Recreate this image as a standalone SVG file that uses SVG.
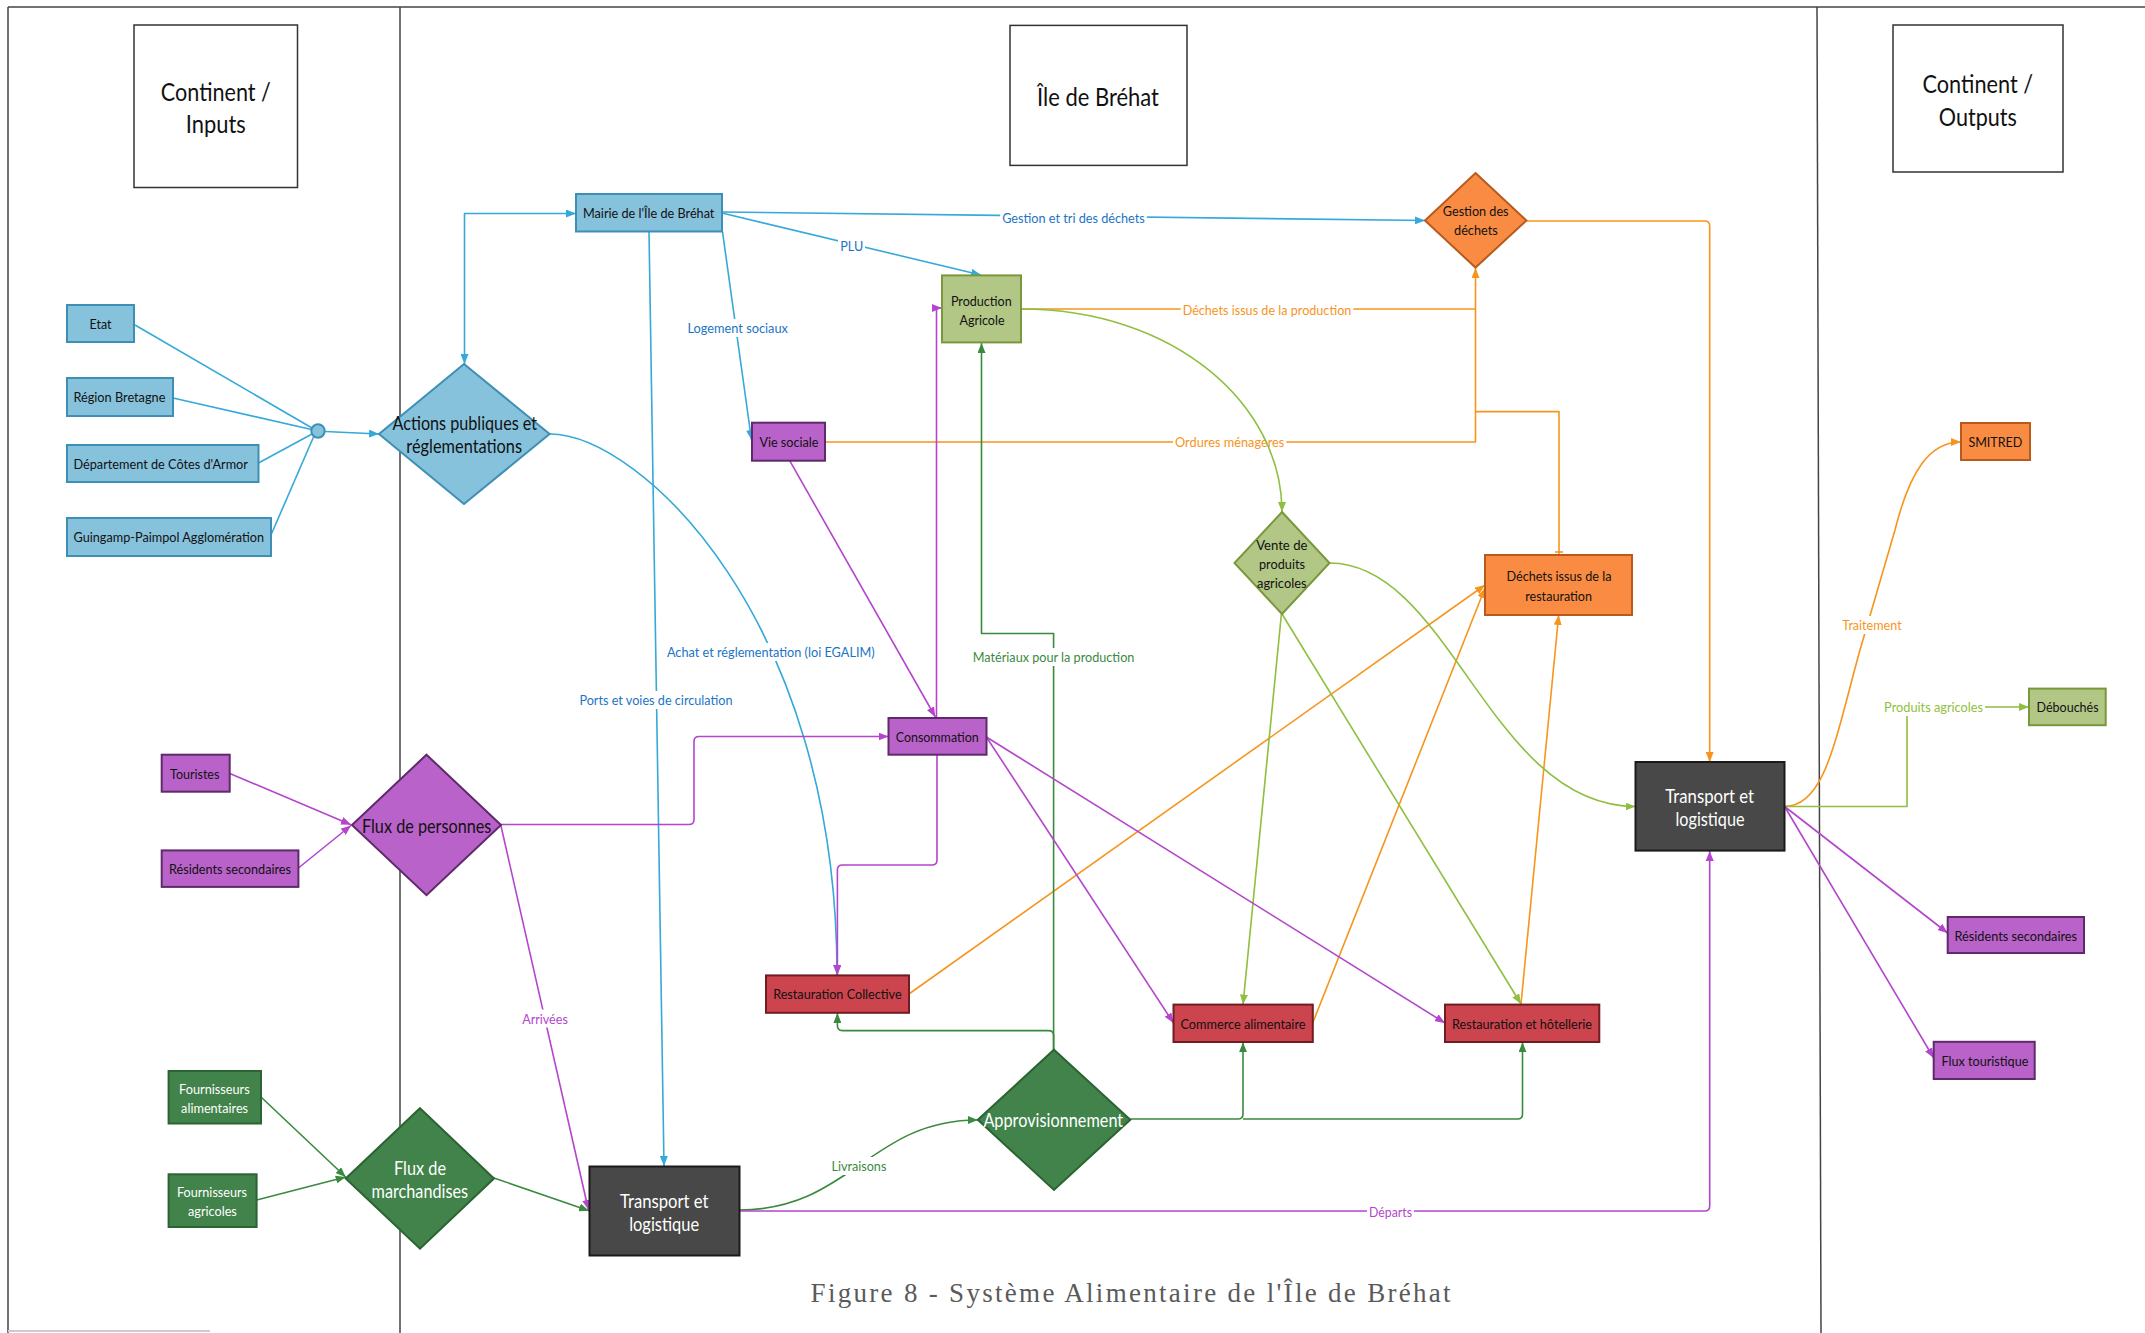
<svg xmlns="http://www.w3.org/2000/svg" width="2145" height="1333" viewBox="0 0 2145 1333">
<style>
text{font-family:Lato,"Open Sans","DejaVu Sans",sans-serif;text-anchor:middle;}
.t{font-size:14px;fill:#111;}
.tw{font-size:14px;fill:#fff;}
.big{font-size:19px;fill:#111;}
.bigw{font-size:19px;fill:#fff;}
.hdr{font-size:25px;fill:#111;}
.lbl{font-size:14px;}
.frame{stroke:#444;stroke-width:1.5;fill:none;}
.box{fill:#fff;stroke:#333;stroke-width:1.5;}
.blue{fill:#86c2dc;stroke:#3d8fb5;stroke-width:2;}
.purple{fill:#b962c9;stroke:#5e2a6a;stroke-width:2;}
.lgreen{fill:#b2c686;stroke:#79983b;stroke-width:2;}
.dgreen{fill:#41834a;stroke:#2a6432;stroke-width:2;}
.red{fill:#cc444d;stroke:#6e1d22;stroke-width:2;}
.orange{fill:#f98c42;stroke:#b85a1c;stroke-width:2;}
.dark{fill:#484848;stroke:#1a1a1a;stroke-width:2;}
.c{fill:none;stroke-width:1.6;stroke-linejoin:round;}
.cb{stroke:#35a9d9;}
.cl{stroke:#8fbf40;}
.cg{stroke:#3a8a3e;}
.cp{stroke:#b445cc;}
.co{stroke:#f7941d;}
.bg{fill:#fff;}
.lb{fill:#1b74c5;}
.lo{fill:#f7941d;}
.lg{fill:#3a8a3e;}
.ll{fill:#8fbf40;}
.lp{fill:#b445cc;}
</style>
<defs>
<marker id="ab" viewBox="0 0 10 8" refX="10" refY="4" markerWidth="10" markerHeight="8" markerUnits="userSpaceOnUse" orient="auto-start-reverse"><path d="M0,0 L10,4 L0,8 z" fill="#35a9d9"/></marker>
<marker id="al" viewBox="0 0 10 8" refX="10" refY="4" markerWidth="10" markerHeight="8" markerUnits="userSpaceOnUse" orient="auto-start-reverse"><path d="M0,0 L10,4 L0,8 z" fill="#8fbf40"/></marker>
<marker id="ag" viewBox="0 0 10 8" refX="10" refY="4" markerWidth="10" markerHeight="8" markerUnits="userSpaceOnUse" orient="auto-start-reverse"><path d="M0,0 L10,4 L0,8 z" fill="#3a8a3e"/></marker>
<marker id="ap" viewBox="0 0 10 8" refX="10" refY="4" markerWidth="10" markerHeight="8" markerUnits="userSpaceOnUse" orient="auto-start-reverse"><path d="M0,0 L10,4 L0,8 z" fill="#b445cc"/></marker>
<marker id="ao" viewBox="0 0 10 8" refX="10" refY="4" markerWidth="10" markerHeight="8" markerUnits="userSpaceOnUse" orient="auto-start-reverse"><path d="M0,0 L10,4 L0,8 z" fill="#f7941d"/></marker>
</defs>
<rect x="0" y="0" width="2145" height="1333" fill="#fff"/>
<g id="frame">
<line class="frame" x1="8" y1="7" x2="2145" y2="7"/>
<line class="frame" x1="8" y1="7" x2="8" y2="1333"/>
<line class="frame" x1="400" y1="7" x2="400" y2="1333"/>
<line class="frame" x1="1817" y1="7" x2="1821" y2="1333"/>
<line x1="8" y1="1331" x2="210" y2="1331" stroke="#ccc" stroke-width="2"/>
</g>
<g id="connectors">
<!-- orange -->
<path class="c co" d="M1021,309 L1475.5,309 L1475.5,268" marker-end="url(#ao)"/>
<path class="c co" d="M825,442 L1475.5,442 L1475.5,309"/>
<path class="c co" d="M1559,555 L1559,411.6 L1475.5,411.6"/>
<line class="c co" x1="1555" y1="552" x2="1563" y2="552"/>
<path class="c co" d="M1526.4,221 L1704.7,221 Q1709.7,221 1709.7,226 L1709.7,762" marker-end="url(#ao)"/>
<path class="c co" d="M908.9,994 L1485,585" marker-end="url(#ao)"/>
<path class="c co" d="M1312.7,1023 L1485,588" marker-end="url(#ao)"/>
<path class="c co" d="M1521,1004 L1558.7,615" marker-end="url(#ao)"/>
<path class="c co" d="M1784.6,806.5 C1825,806.5 1835,740 1860,650 L1895,530 C1910,470 1930,442 1961,442" marker-end="url(#ao)"/>
<rect class="bg" x="1180.6" y="301" width="172.7" height="18"/>
<text class="lbl lo" x="1267" y="315" textLength="168.7" lengthAdjust="spacingAndGlyphs">Déchets issus de la production</text>
<rect class="bg" x="1173" y="433" width="113.4" height="18"/>
<text class="lbl lo" x="1229.7" y="447" textLength="109.4" lengthAdjust="spacingAndGlyphs">Ordures ménagères</text>
<rect class="bg" x="1840.3" y="616" width="63.3" height="18"/>
<text class="lbl lo" x="1872" y="630" textLength="59.3" lengthAdjust="spacingAndGlyphs">Traitement</text>
<!-- blue -->
<line class="c cb" x1="135" y1="325" x2="312" y2="428"/>
<line class="c cb" x1="173" y1="398" x2="311.5" y2="429.5"/>
<line class="c cb" x1="258.5" y1="463" x2="312" y2="434"/>
<line class="c cb" x1="271" y1="535" x2="313.5" y2="437"/>
<path class="c cb" d="M325,431.5 L379,434" marker-end="url(#ab)"/>
<path class="c cb" d="M576,213.5 L464.5,213.5 L464.5,364" marker-start="url(#ab)" marker-end="url(#ab)"/>
<path class="c cb" d="M722,212 L1425,220.5" marker-end="url(#ab)"/>
<path class="c cb" d="M722,213 L981,275" marker-end="url(#ab)"/>
<path class="c cb" d="M722.5,231.7 L751.5,440" marker-end="url(#ab)"/>
<path class="c cb" d="M649,231.7 L664,1166" marker-end="url(#ab)"/>
<path class="c cb" d="M549.6,434 C640,434 837,620 837,975" marker-end="url(#ab)"/>
<rect class="bg" x="1000.2" y="209" width="146.6" height="18"/>
<text class="lbl lb" x="1073.5" y="223" textLength="142.6" lengthAdjust="spacingAndGlyphs">Gestion et tri des déchets</text>
<rect class="bg" x="838" y="237" width="27" height="18"/>
<text class="lbl lb" x="851.7" y="251" textLength="23" lengthAdjust="spacingAndGlyphs">PLU</text>
<rect class="bg" x="685.5" y="319" width="104.5" height="18"/>
<text class="lbl lb" x="737.7" y="333" textLength="100.5" lengthAdjust="spacingAndGlyphs">Logement sociaux</text>
<rect class="bg" x="577.4" y="691" width="157.2" height="18"/>
<text class="lbl lb" x="656" y="705" textLength="153.2" lengthAdjust="spacingAndGlyphs">Ports et voies de circulation</text>
<rect class="bg" x="665" y="643" width="211.7" height="18"/>
<text class="lbl lb" x="770.8" y="657.4" textLength="207.7" lengthAdjust="spacingAndGlyphs">Achat et réglementation (loi EGALIM)</text>
<!-- dark green -->
<path class="c cg" d="M261,1097 L345.7,1177" marker-end="url(#ag)"/>
<path class="c cg" d="M256.7,1200 L345.7,1177" marker-end="url(#ag)"/>
<path class="c cg" d="M494,1178 L589,1210.8" marker-end="url(#ag)"/>
<path class="c cg" d="M739,1210 C850,1210 870,1120 977.8,1120" marker-end="url(#ag)"/>
<path class="c cg" d="M1053.6,1049.7 L1053.6,633.5 L981.5,633.5 L981.5,343" marker-end="url(#ag)"/>
<path class="c cg" d="M1053.6,1049.7 L1053.6,1035.6 Q1053.6,1030.6 1048.6,1030.6 L842.4,1030.6 Q837.4,1030.6 837.4,1025.6 L837.4,1013" marker-end="url(#ag)"/>
<path class="c cg" d="M1130.3,1119 L1238,1119 Q1243,1119 1243,1114 L1243,1042.3" marker-end="url(#ag)"/>
<path class="c cg" d="M1243,1119 L1517.5,1119 Q1522.5,1119 1522.5,1114 L1522.5,1042.3" marker-end="url(#ag)"/>
<rect class="bg" x="970.8" y="648" width="165.6" height="18"/>
<text class="lbl lg" x="1053.6" y="662" textLength="161.6" lengthAdjust="spacingAndGlyphs">Matériaux pour la production</text>
<rect class="bg" x="829.4" y="1157" width="59" height="18"/>
<text class="lbl lg" x="858.9" y="1171" textLength="55" lengthAdjust="spacingAndGlyphs">Livraisons</text>
<!-- light green -->
<path class="c cl" d="M1021,309 C1175,309 1282,405 1282,512" marker-end="url(#al)"/>
<path class="c cl" d="M1281.4,614 L1243,1004.6" marker-end="url(#al)"/>
<path class="c cl" d="M1282,614 L1521,1004" marker-end="url(#al)"/>
<path class="c cl" d="M1329.6,563 C1450,563 1490,806.5 1635.5,806.5" marker-end="url(#al)"/>
<path class="c cl" d="M1784.6,806.5 L1907,806.5 L1907,707 L2029,707" marker-end="url(#al)"/>
<rect class="bg" x="1882" y="698" width="103" height="18"/>
<text class="lbl ll" x="1933.6" y="712" textLength="99" lengthAdjust="spacingAndGlyphs">Produits agricoles</text>
<!-- purple -->
<path class="c cp" d="M229.8,773.5 L351,824.7" marker-end="url(#ap)"/>
<path class="c cp" d="M298.4,868 L351,825.5" marker-end="url(#ap)"/>
<path class="c cp" d="M501,824.5 L689,824.5 Q694,824.5 694,819.5 L694,741.5 Q694,736.5 699,736.5 L888.5,736.5" marker-end="url(#ap)"/>
<path class="c cp" d="M501,826 L588.4,1209.8" marker-end="url(#ap)"/>
<path class="c cp" d="M789.7,460.7 L935.4,717" marker-end="url(#ap)"/>
<path class="c cp" d="M936.5,718 L936.5,308 L942,308" marker-end="url(#ap)"/>
<path class="c cp" d="M937,754.7 L937,860 Q937,865 932,865 L842.4,865 Q837.4,865 837.4,870 L837.4,975" marker-end="url(#ap)"/>
<path class="c cp" d="M986.4,737 L1173.5,1023" marker-end="url(#ap)"/>
<path class="c cp" d="M986.4,737 L1445,1023" marker-end="url(#ap)"/>
<path class="c cp" d="M739.5,1211 L1704.7,1211 Q1709.7,1211 1709.7,1206 L1709.7,851" marker-end="url(#ap)"/>
<path class="c cp" d="M1784.6,806.5 L1947.7,933" marker-end="url(#ap)"/>
<path class="c cp" d="M1784.6,806.5 L1933.7,1058" marker-end="url(#ap)"/>
<rect class="bg" x="520.2" y="1009.5" width="49.7" height="18"/>
<text class="lbl lp" x="545" y="1023.5" textLength="45.7" lengthAdjust="spacingAndGlyphs">Arrivées</text>
<rect class="bg" x="1367" y="1203" width="47" height="18"/>
<text class="lbl lp" x="1390.5" y="1217" textLength="43" lengthAdjust="spacingAndGlyphs">Départs</text>
</g>
<g id="hdr-inputs"><rect class="box" x="134" y="25" width="163.5" height="162.5"/><text class="hdr" x="215.8" y="100.5" textLength="110" lengthAdjust="spacingAndGlyphs">Continent /</text><text class="hdr" x="215.8" y="133" textLength="60" lengthAdjust="spacingAndGlyphs">Inputs</text></g>
<g id="hdr-ile"><rect class="box" x="1010" y="25.4" width="177" height="140"/><text class="hdr" x="1098" y="105.5" textLength="122" lengthAdjust="spacingAndGlyphs">Île de Bréhat</text></g>
<g id="hdr-outputs"><rect class="box" x="1893" y="25" width="170" height="147"/><text class="hdr" x="1977.8" y="93.3" textLength="110.5" lengthAdjust="spacingAndGlyphs">Continent /</text><text class="hdr" x="1977.8" y="125.6" textLength="78" lengthAdjust="spacingAndGlyphs">Outputs</text></g>
<g id="etat"><rect class="blue" x="67" y="305" width="67" height="37"/><text class="t" x="100.5" y="328.5" textLength="22" lengthAdjust="spacingAndGlyphs">Etat</text></g>
<g id="region"><rect class="blue" x="67" y="378" width="106" height="38"/><text class="t" x="119.4" y="402" textLength="92" lengthAdjust="spacingAndGlyphs">Région Bretagne</text></g>
<g id="departement"><rect class="blue" x="67" y="445" width="191.5" height="37"/><text class="t" x="160.7" y="468.5" textLength="174.5" lengthAdjust="spacingAndGlyphs">Département de Côtes d'Armor</text></g>
<g id="guingamp"><rect class="blue" x="67" y="518" width="204" height="38"/><text class="t" x="168.8" y="542" textLength="190.5" lengthAdjust="spacingAndGlyphs">Guingamp-Paimpol Agglomération</text></g>
<g id="junction"><circle class="blue" cx="318" cy="431" r="6.7" stroke-width="1.5"/></g>
<g id="actions"><polygon class="blue" points="464,364 549.6,434 464,504 379,434"/><text class="big" x="464.8" y="430" textLength="144.6" lengthAdjust="spacingAndGlyphs">Actions publiques et</text><text class="big" x="464.2" y="453" textLength="115.7" lengthAdjust="spacingAndGlyphs">réglementations</text></g>
<g id="mairie"><rect class="blue" x="576" y="194" width="146" height="37.5"/><text class="t" x="648.7" y="217.8" textLength="131.4" lengthAdjust="spacingAndGlyphs">Mairie de l'Île de Bréhat</text></g>
<g id="production"><rect class="lgreen" x="942" y="275.4" width="79" height="67"/><text class="t" x="981.3" y="305.8" textLength="60.7" lengthAdjust="spacingAndGlyphs">Production</text><text class="t" x="982" y="324.5" textLength="45" lengthAdjust="spacingAndGlyphs">Agricole</text></g>
<g id="vie-sociale"><rect class="purple" x="752" y="422.7" width="73" height="38"/><text class="t" x="788.9" y="447" textLength="59" lengthAdjust="spacingAndGlyphs">Vie sociale</text></g>
<g id="gestion"><polygon class="orange" points="1475.5,173 1526.4,220.5 1475.5,267.6 1425,220.5"/><text class="t" x="1475.7" y="216.4" textLength="65.8" lengthAdjust="spacingAndGlyphs">Gestion des</text><text class="t" x="1475.9" y="234.6" textLength="43.7" lengthAdjust="spacingAndGlyphs">déchets</text></g>
<g id="vente"><polygon class="lgreen" points="1282,512 1329.5,563 1282,614 1234.5,563"/><text class="t" x="1281.8" y="550" textLength="51.3" lengthAdjust="spacingAndGlyphs">Vente de</text><text class="t" x="1282" y="569" textLength="46" lengthAdjust="spacingAndGlyphs">produits</text><text class="t" x="1281.8" y="587.8" textLength="49.6" lengthAdjust="spacingAndGlyphs">agricoles</text></g>
<g id="dechets-restauration"><rect class="orange" x="1485" y="555" width="147" height="60"/><text class="t" x="1559" y="581" textLength="105" lengthAdjust="spacingAndGlyphs">Déchets issus de la</text><text class="t" x="1558.6" y="600.5" textLength="66.8" lengthAdjust="spacingAndGlyphs">restauration</text></g>
<g id="smitred"><rect class="orange" x="1961" y="423" width="69" height="37"/><text class="t" x="1995.4" y="447" textLength="54" lengthAdjust="spacingAndGlyphs">SMITRED</text></g>
<g id="debouches"><rect class="lgreen" x="2029" y="688.6" width="76.7" height="36.6"/><text class="t" x="2067.6" y="712" textLength="62" lengthAdjust="spacingAndGlyphs">Débouchés</text></g>
<g id="consommation"><rect class="purple" x="888.5" y="718" width="98" height="36.7"/><text class="t" x="937.2" y="742" textLength="83" lengthAdjust="spacingAndGlyphs">Consommation</text></g>
<g id="touristes"><rect class="purple" x="161.7" y="754.7" width="68" height="37"/><text class="t" x="194.7" y="778.5" textLength="49.3" lengthAdjust="spacingAndGlyphs">Touristes</text></g>
<g id="residents-in"><rect class="purple" x="161.7" y="850.4" width="136.7" height="36.5"/><text class="t" x="230" y="874" textLength="122" lengthAdjust="spacingAndGlyphs">Résidents secondaires</text></g>
<g id="flux-personnes"><polygon class="purple" points="426.5,754.7 501,825 426.5,895.2 352,825"/><text class="big" x="426.7" y="833" textLength="129.4" lengthAdjust="spacingAndGlyphs">Flux de personnes</text></g>
<g id="transport-out"><rect class="dark" x="1635.5" y="762" width="149" height="88.6"/><text class="bigw" x="1709.7" y="803" textLength="88.8" lengthAdjust="spacingAndGlyphs">Transport et</text><text class="bigw" x="1710" y="825.5" textLength="69" lengthAdjust="spacingAndGlyphs">logistique</text></g>
<g id="residents-out"><rect class="purple" x="1947.7" y="917" width="136.3" height="36"/><text class="t" x="2015.8" y="940.6" textLength="122.5" lengthAdjust="spacingAndGlyphs">Résidents secondaires</text></g>
<g id="flux-touristique"><rect class="purple" x="1933.7" y="1041.8" width="101" height="37.2"/><text class="t" x="1984.9" y="1065.5" textLength="87" lengthAdjust="spacingAndGlyphs">Flux touristique</text></g>
<g id="restauration-collective"><rect class="red" x="766" y="975.4" width="143" height="37.4"/><text class="t" x="837.4" y="999" textLength="128.5" lengthAdjust="spacingAndGlyphs">Restauration Collective</text></g>
<g id="commerce"><rect class="red" x="1173.5" y="1004.6" width="139.3" height="37.4"/><text class="t" x="1243" y="1029" textLength="125" lengthAdjust="spacingAndGlyphs">Commerce alimentaire</text></g>
<g id="restauration-hotellerie"><rect class="red" x="1445" y="1004.6" width="154.3" height="37.4"/><text class="t" x="1522" y="1029" textLength="140" lengthAdjust="spacingAndGlyphs">Restauration et hôtellerie</text></g>
<g id="fournisseurs-alim"><rect class="dgreen" x="168.6" y="1071" width="92.4" height="52.5"/><text class="tw" x="214.4" y="1094" textLength="70.6" lengthAdjust="spacingAndGlyphs">Fournisseurs</text><text class="tw" x="214.6" y="1112.7" textLength="67" lengthAdjust="spacingAndGlyphs">alimentaires</text></g>
<g id="fournisseurs-agri"><rect class="dgreen" x="168.6" y="1174.3" width="88" height="52.7"/><text class="tw" x="212" y="1197" textLength="70" lengthAdjust="spacingAndGlyphs">Fournisseurs</text><text class="tw" x="212.4" y="1215.8" textLength="48.8" lengthAdjust="spacingAndGlyphs">agricoles</text></g>
<g id="flux-marchandises"><polygon class="dgreen" points="420,1108.2 494,1178.5 420,1248.7 345.7,1178.5"/><text class="bigw" x="420" y="1174.5" textLength="52" lengthAdjust="spacingAndGlyphs">Flux de</text><text class="bigw" x="419.8" y="1198.4" textLength="96.5" lengthAdjust="spacingAndGlyphs">marchandises</text></g>
<g id="transport-in"><rect class="dark" x="589.5" y="1166.5" width="150" height="89"/><text class="bigw" x="664.2" y="1207.8" textLength="88.3" lengthAdjust="spacingAndGlyphs">Transport et</text><text class="bigw" x="664.2" y="1231" textLength="70" lengthAdjust="spacingAndGlyphs">logistique</text></g>
<g id="approvisionnement"><polygon class="dgreen" points="1054,1049.7 1130.3,1119.8 1054,1190 977.8,1119.8"/><text class="bigw" x="1053.3" y="1127.3" textLength="139.8" lengthAdjust="spacingAndGlyphs">Approvisionnement</text></g>
<g id="caption"><text x="1130.6" y="1302" style="font-family:'Liberation Serif','DejaVu Serif',serif;font-size:27px;fill:#5a5a5a;" textLength="640" lengthAdjust="spacing">Figure 8 - Système Alimentaire de l'Île de Bréhat</text></g>
</svg>
